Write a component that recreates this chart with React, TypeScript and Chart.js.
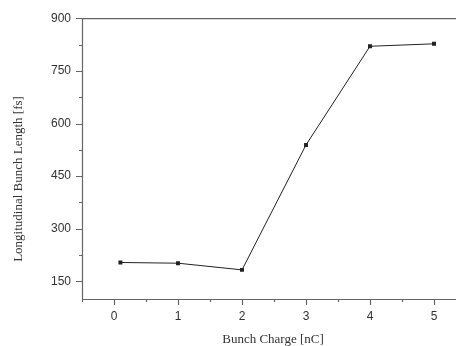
import React, { useEffect, useRef } from "react";
import { Chart, registerables } from "chart.js";

Chart.register(...registerables);

const charge = [0.1, 1, 2, 3, 4, 5];
const bunchLength = [204, 202, 183, 539, 820, 827];
const xTicks = [0, 1, 2, 3, 4, 5];
const xMinor = [-0.5, 0.5, 1.5, 2.5, 3.5, 4.5, 5.5];
const yTicks = [150, 300, 450, 600, 750, 900];
const yMinor = [225, 375, 525, 675, 825];
const xTitle = "Bunch Charge [nC]";
const yTitle = "Longitudinal Bunch Length [fs]";

const AXIS = "#666666";
const TEXT = "#333333";

const framePlugin = {
  id: "frame",
  afterDraw(chart: any) {
    const { ctx, chartArea } = chart;
    const xs = chart.scales.x;
    const ys = chart.scales.y;
    ctx.save();
    ctx.strokeStyle = AXIS;
    ctx.lineWidth = 1.2;
    ctx.beginPath();
    ctx.moveTo(chartArea.left + 0.5, chartArea.top);
    ctx.lineTo(chartArea.left + 0.5, chartArea.bottom + 1);
    ctx.moveTo(chartArea.left, chartArea.bottom + 0.5);
    ctx.lineTo(chartArea.right, chartArea.bottom + 0.5);
    ctx.moveTo(chartArea.left, chartArea.top + 0.5);
    ctx.lineTo(chartArea.right, chartArea.top + 0.5);
    yTicks.forEach((v) => {
      const p = Math.round(ys.getPixelForValue(v)) + 0.5;
      ctx.moveTo(chartArea.left - 6, p);
      ctx.lineTo(chartArea.left, p);
    });
    yMinor.forEach((v) => {
      const p = Math.round(ys.getPixelForValue(v)) + 0.5;
      ctx.moveTo(chartArea.left - 3, p);
      ctx.lineTo(chartArea.left, p);
    });
    xTicks.forEach((v) => {
      const p = Math.round(xs.getPixelForValue(v)) + 0.5;
      ctx.moveTo(p, chartArea.bottom);
      ctx.lineTo(p, chartArea.bottom + 6);
    });
    xMinor.forEach((v) => {
      const p = Math.round(xs.getPixelForValue(v)) + 0.5;
      ctx.moveTo(p, chartArea.bottom);
      ctx.lineTo(p, chartArea.bottom + 3);
    });
    ctx.stroke();

    ctx.fillStyle = TEXT;
    ctx.font = "13px 'Liberation Serif', serif";
    ctx.textAlign = "center";
    ctx.textBaseline = "alphabetic";
    ctx.fillText(xTitle, 273, 343);
    ctx.save();
    ctx.translate(22, 179);
    ctx.rotate(-Math.PI / 2);
    ctx.fillText(yTitle, 0, 0);
    ctx.restore();
    ctx.restore();
  },
};

export default function App() {
  const ref = useRef<HTMLCanvasElement | null>(null);
  useEffect(() => {
    document.body.style.margin = "0";
    if (!ref.current) return;
    const chart = new Chart(ref.current, {
      type: "line",
      data: {
        datasets: [
          {
            data: charge.map((x, i) => ({ x, y: bunchLength[i] })),
            borderColor: "#222222",
            backgroundColor: "#222222",
            borderWidth: 1,
            pointStyle: "rect",
            pointRadius: 2.8,
            pointBorderWidth: 0,
            tension: 0,
          },
        ],
      },
      options: {
        responsive: false,
        animation: false,
        layout: { padding: { top: 16, right: 4, left: 0, bottom: 0 } },
        plugins: { legend: { display: false }, tooltip: { enabled: false } },
        scales: {
          x: {
            type: "linear",
            min: -0.5,
            max: 5.5,
            grid: { display: false, drawTicks: false, tickLength: 0 },
            border: { display: false },
            afterBuildTicks: (s: any) => {
              s.ticks = xTicks.map((v) => ({ value: v }));
            },
            afterFit: (s: any) => {
              s.height = 47;
            },
            ticks: {
              padding: 10,
              color: TEXT,
              font: { family: "'Liberation Sans', Arial, sans-serif", size: 12 },
              callback: (v: any) => String(v),
              maxRotation: 0,
            },
          },
          y: {
            type: "linear",
            min: 100,
            max: 900,
            grid: { display: false, drawTicks: false, tickLength: 0 },
            border: { display: false },
            afterBuildTicks: (s: any) => {
              s.ticks = yTicks.map((v) => ({ value: v }));
            },
            afterFit: (s: any) => {
              s.width = 82;
            },
            ticks: {
              padding: 11,
              color: TEXT,
              font: { family: "'Liberation Sans', Arial, sans-serif", size: 12 },
              callback: (v: any) => String(v),
            },
          },
        },
      },
      plugins: [framePlugin],
    });
    return () => chart.destroy();
  }, []);
  return (
    <div
      style={{
        position: "absolute",
        left: 0,
        top: 0,
        width: 456,
        height: 346,
        overflow: "hidden",
        background: "#fff",
      }}
    >
      <canvas ref={ref} width={470} height={346} style={{ display: "block" }} />
    </div>
  );
}
